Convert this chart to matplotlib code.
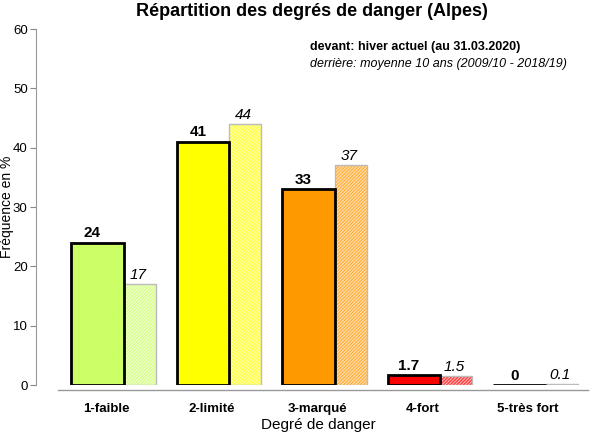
import numpy as np
import matplotlib.pyplot as plt

plt.rcParams['font.family'] = ['Liberation Sans', 'DejaVu Sans']
plt.rcParams['hatch.linewidth'] = 0.6

# Données
categories = ['1-faible', '2-limité', '3-marqué', '4-fort', '5-très fort']
actuel = [24, 41, 33, 1.7, 0]
moyenne = [17, 44, 37, 1.5, 0.1]
labels_actuel = ['24', '41', '33', '1.7', '0']
labels_moyenne = ['17', '44', '37', '1.5', '0.1']
couleurs = ['#CCFF66', '#FFFF00', '#FF9900', '#FF0000', '#FFFFFF']

x = np.arange(len(categories))
w_front = 0.50
w_back = 0.30
off_front = -0.33
off_back = 0.17

fig = plt.figure(figsize=(6.16, 4.36), dpi=100)
ax = fig.add_axes([36 / 616, 1 - 385 / 436, (588 - 36) / 616, (385 - 29) / 436])

# barres arrière (moyenne 10 ans), hachurées
ax.bar(x + off_back, moyenne, width=w_back, align='edge', color=couleurs,
       alpha=0.75, edgecolor='#FFFFFF', hatch='//////////', linewidth=0)
ax.bar(x + off_back, moyenne, width=w_back, align='edge', fill=False,
       edgecolor='#BBBBBB', linewidth=1)

# barres avant (hiver actuel)
ax.bar(x + off_front, actuel, width=w_front, align='edge', color=couleurs,
       edgecolor='black', linewidth=2)

for i in range(len(categories)):
    ax.text(x[i] + off_front + w_front * 0.40, actuel[i] + 0.4, labels_actuel[i],
            ha='center', va='bottom', fontsize=11, fontweight='bold')
    ax.text(x[i] + off_back + w_back * 0.45, moyenne[i] + 0.4, labels_moyenne[i],
            ha='center', va='bottom', fontsize=11, fontstyle='italic')

ax.set_xlim((36 - 106) / 105.5, (588 - 106) / 105.5)
ax.set_ylim(0, 60)
ax.set_yticks(np.arange(0, 61, 10))
ax.set_xticks(x)
ax.set_xticklabels(categories)
for t in ax.get_xticklabels():
    t.set_fontweight('bold')
    t.set_fontsize(9.5)
ax.tick_params(axis='x', length=0, pad=13)
ax.tick_params(axis='y', length=4, color='#888888', labelsize=9.5, pad=2)

for s in ['top', 'right', 'bottom']:
    ax.spines[s].set_visible(False)
ax.spines['left'].set_color('#999999')
ax.spines['left'].set_bounds(0, 60)

# ligne de base décalée sous les barres
ax.plot([(58 - 106) / 105.5, (588 - 106) / 105.5], [-0.85, -0.85], color='#999999',
        linewidth=1, clip_on=False)

fig.text(7 / 616, 1 - 207 / 436, 'Fréquence en %', fontsize=10, rotation=90,
         ha='center', va='center')
fig.text(318 / 616, 1 - 425 / 436, 'Degré de danger', fontsize=11,
         ha='center', va='center')
ax.set_title('Répartition des degrés de danger (Alpes)', fontsize=13,
             fontweight='bold', pad=9)

fig.text(310 / 616, 1 - 47 / 436, 'devant: hiver actuel (au 31.03.2020)',
         fontsize=9, fontweight='bold', va='center')
fig.text(310 / 616, 1 - 64 / 436, 'derrière: moyenne 10 ans (2009/10 - 2018/19)',
         fontsize=9, fontstyle='italic', va='center')

fig.savefig('out.png', dpi=100)
